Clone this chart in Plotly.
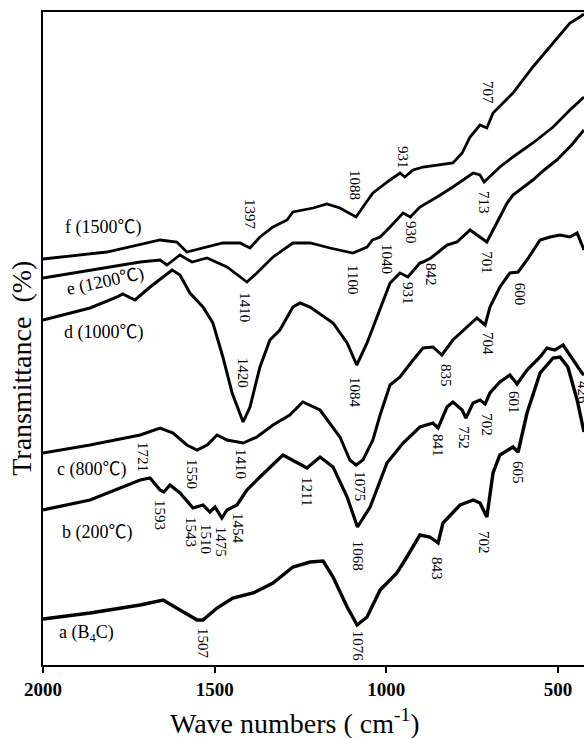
import plotly.graph_objects as go

# ---------------- data ----------------
wn_a = [2000,1863,1717,1650,1601,1551,1534,1493,1447,1388,1330,1272,1222,1184,1155,1114,1085,1056,1018,969,
        940,902,873,849,835,806,785,747,727,707,698,689,669,631,616,590,552,514,494,471,444,424]
t_a = [46,52,60,65,55,45,45,57,67,72,82,98,103,104,88,58,40,48,75,92,
       108,130,128,122,142,152,160,165,162,148,172,192,210,218,213,252,292,307,308,298,265,233]

wn_b = [2000,1863,1717,1688,1659,1648,1630,1601,1563,1534,1514,1499,1479,1464,1435,1406,1368,1301,1231,1193,
        1155,1114,1084,1047,998,951,902,864,849,823,806,779,768,747,727,712,698,669,640,619,
        590,552,532,509,485,456,430,424]
t_b = [155,165,185,187,175,173,180,172,157,160,153,158,147,155,160,175,188,210,197,208,
       198,168,138,158,202,222,238,242,237,258,263,255,247,262,265,261,272,283,290,281,
       295,308,317,315,320,305,292,290]

wn_c = [2000,1863,1717,1659,1621,1581,1551,1522,1493,1464,1417,1377,1330,1281,1243,1193,1135,1106,1088,
        1068,1039,1018,989,960,922,893,864,838,806,765,736,712,698,669,640,616,590,552,523,494,465,444,424]
t_c = [212,220,230,237,232,220,215,220,230,225,222,228,240,250,263,255,228,205,200,
       205,225,250,280,288,305,317,318,310,325,338,347,340,358,378,392,393,405,425,428,430,428,432,415]

wn_d = [2000,1863,1784,1768,1732,1688,1624,1601,1572,1534,1505,1476,1449,1417,1397,1368,1339,1310,1272,1251,
        1222,1155,1114,1086,1056,1018,989,960,937,902,893,870,823,794,756,707,689,669,648,631,
        600,573,540,503,460,424]
t_d = [345,357,368,371,365,378,395,390,372,358,342,308,272,243,258,298,325,335,358,362,
       358,342,322,300,322,355,382,392,388,402,403,407,420,423,435,423,435,448,462,470,
       478,485,495,505,520,535]

wn_e = [2000,1863,1717,1659,1639,1601,1566,1522,1464,1406,1377,1330,1272,1222,1164,1097,1056,1040,1018,989,
        951,930,902,852,806,747,727,715,669,631,573,514,465,424]
t_e = [387,395,403,405,400,410,403,407,398,383,392,408,422,422,417,412,418,425,428,438,
       452,448,458,468,478,492,490,483,498,508,522,538,555,568]

wn_f = [2000,1814,1659,1610,1581,1522,1476,1426,1397,1368,1330,1289,1272,1213,1173,1135,1088,1068,1039,989,
        960,946,922,893,844,806,779,756,727,707,689,631,573,514,465,436,424]
t_f = [406,413,425,423,413,418,422,422,417,428,438,445,453,457,461,457,448,458,472,485,
       492,488,495,498,500,502,512,528,540,537,552,572,598,622,642,648,651]

curve_names = ["a (B<sub>4</sub>C)", "b (200℃)", "c (800℃)", "d (1000℃)", "e (1200℃)", "f (1500℃)"]

# peak labels: text, wavenumber position, height position
peak_text = ["1397","1088","931","707",
             "1410","1100","1040","930","713",
             "1420","1084","931","842","701",
             "1721","1550","1410","1075","835","704","600",
             "1593","1543","1510","1475","1454","1211","1068","841","752","702","601","426",
             "1507","1076","843","702","605"]
peak_x = [1397,1091,951,704,
          1412,1097,998,928,715,
          1417,1091,937,870,707,
          1709,1566,1423,1077,826,704,610,
          1659,1569,1525,1481,1432,1231,1082,849,774,707,628,427,
          1534,1082,852,715,616]
peak_y = [450,480,508,572,
          358,385,406,432,463,
          292,273,371,390,402,
          208,191,201,179,290,321,371,
          150,133,126,123,136,173,109,220,227,240,262,272,
          21,19,97,123,193]

xtick_vals = [2000, 1500, 1000, 500]

# ---------------- figure ----------------
SERIF = "Liberation Serif, Times New Roman, Noto Sans CJK SC, serif"
fig = go.Figure()
for wn, t, w in [(wn_a, t_a, 3.4), (wn_b, t_b, 3.2), (wn_c, t_c, 3.0),
                 (wn_d, t_d, 3.0), (wn_e, t_e, 2.8), (wn_f, t_f, 2.8)]:
    fig.add_trace(go.Scatter(x=wn, y=t, mode="lines",
                             line=dict(color="black", width=w), showlegend=False,
                             hoverinfo="skip"))

annos = []
for txt, x, y in zip(peak_text, peak_x, peak_y):
    annos.append(dict(x=x, y=y, xref="x", yref="y", text=txt, showarrow=False,
                      textangle=90, xanchor="center", yanchor="middle",
                      font=dict(family=SERIF, size=15, color="black")))

label_pos = [(1959, 32, 0), (1950, 133, 0), (1965, 196, 0), (1945, 333, 0), (1819, 384, -12), (1942, 438, 0)]
for name, (x, y, ang) in zip(curve_names, label_pos):
    annos.append(dict(x=x, y=y, xref="x", yref="y", text=name, showarrow=False,
                      textangle=ang, xanchor="center" if ang else "left", yanchor="middle",
                      font=dict(family=SERIF, size=18, color="black")))

annos.append(dict(x=0.466, y=-0.087, xref="paper", yref="paper",
                  text="Wave numbers ( cm<sup>-1</sup>)", showarrow=False,
                  xanchor="center", yanchor="middle",
                  font=dict(family=SERIF, size=28, color="black")))
annos.append(dict(x=-0.039, y=0.455, xref="paper", yref="paper",
                  text="Transmittance  (%)", showarrow=False, textangle=-90,
                  xanchor="center", yanchor="middle",
                  font=dict(family=SERIF, size=28, color="black")))

fig.update_layout(
    width=584, height=738,
    margin=dict(l=43, r=0, t=12, b=73),
    paper_bgcolor="white", plot_bgcolor="white",
    annotations=annos,
    xaxis=dict(range=[2000, 424], tickvals=xtick_vals, ticktext=[str(v) for v in xtick_vals],
               showgrid=False, zeroline=False, showline=True, linecolor="black", linewidth=2,
               mirror=True, ticks="outside", ticklen=6, tickwidth=2, tickcolor="black",
               tickfont=dict(family=SERIF, size=19, color="black", weight="bold")),
    yaxis=dict(range=[0, 653], showticklabels=False, showgrid=False, zeroline=False,
               showline=True, linecolor="black", linewidth=2, ticks=""),
)

fig.write_html("out.html", config={"displayModeBar": False},
               post_script="document.body.style.margin='0';document.body.style.overflow='hidden';")
